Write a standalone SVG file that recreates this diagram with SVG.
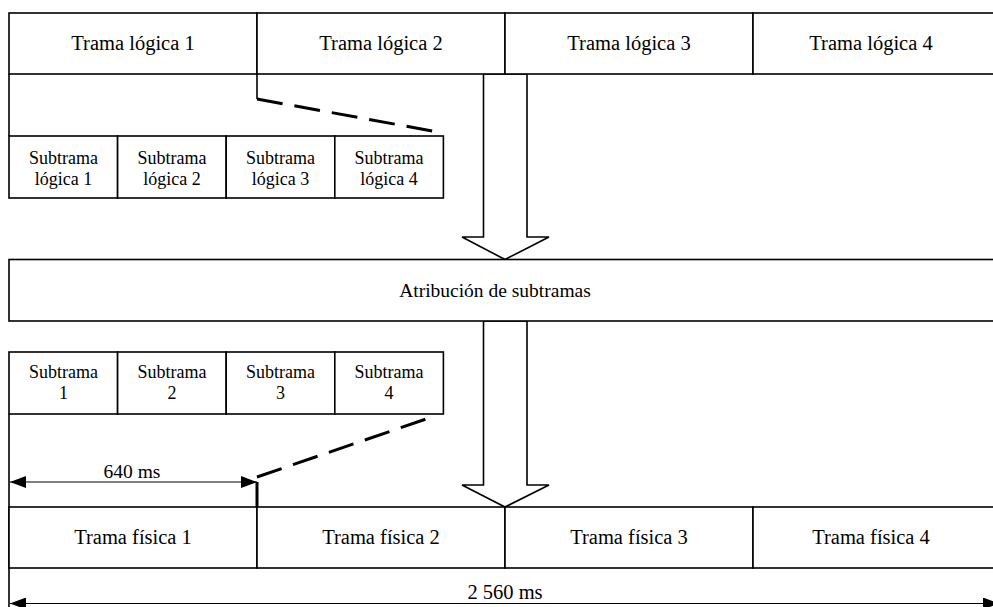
<svg xmlns="http://www.w3.org/2000/svg" width="993" height="607" viewBox="0 0 993 607">
<style>
  .box { fill: #ffffff; stroke: #000000; stroke-width: 1.6; }
  .ln { fill: none; stroke: #000000; stroke-width: 1.6; }
  .dash { fill: none; stroke: #000000; stroke-width: 3; stroke-dasharray: 26 12; }
  .dim { fill: none; stroke: #000000; stroke-width: 1.2; }
  .t { font-family: "Liberation Serif", "Times New Roman", serif; fill: #000000; text-anchor: middle; }
  .big { font-size: 20.5px; }
  .mid { font-size: 19.5px; }
  .sm { font-size: 18px; }
</style>
<defs>
  <marker id="ah" viewBox="0 0 16 12" refX="16" refY="6" markerWidth="16" markerHeight="12" markerUnits="userSpaceOnUse" orient="auto-start-reverse">
    <path d="M0,0 L16,6 L0,12 Z" fill="#000000"/>
  </marker>
</defs>
<rect x="0" y="0" width="993" height="607" fill="#ffffff"/>

<g id="connectors">
  <line class="ln" x1="9" y1="74" x2="9" y2="136"/>
  <line class="ln" x1="9" y1="414" x2="9" y2="607"/>
  <line class="ln" x1="257" y1="74" x2="257" y2="99"/>
  <line class="dash" x1="257" y1="99" x2="438" y2="132"/>
  <line class="dash" x1="257" y1="477" x2="432" y2="417"/>
  <polygon class="box" points="483.5,74 527,74 527,237 549,237 505,259.5 462,237 483.5,237"/>
  <polygon class="box" points="483.5,321 527,321 527,485 549,485 505,507 462,485 483.5,485"/>
  <line x1="257" y1="482" x2="257" y2="507" stroke="#000" stroke-width="3"/>
  <line class="dim" x1="10" y1="482" x2="257" y2="482" marker-start="url(#ah)" marker-end="url(#ah)"/>
  <text class="t mid" x="132" y="478">640 ms</text>
  <line class="dim" x1="10" y1="603.5" x2="999" y2="603.5" marker-start="url(#ah)" marker-end="url(#ah)"/>
  <text class="t big" x="505" y="599">2 560 ms</text>
</g>

<g id="trama-logica-1"><rect class="box" x="9" y="13" width="248" height="61"/><text class="t big" x="133" y="50">Trama lógica 1</text></g>
<g id="trama-logica-2"><rect class="box" x="257" y="13" width="248" height="61"/><text class="t big" x="381" y="50">Trama lógica 2</text></g>
<g id="trama-logica-3"><rect class="box" x="505" y="13" width="248" height="61"/><text class="t big" x="629" y="50">Trama lógica 3</text></g>
<g id="trama-logica-4"><rect class="box" x="753" y="13" width="250" height="61"/><text class="t big" x="871" y="50">Trama lógica 4</text></g>

<g id="subtrama-logica-1"><rect class="box" x="9" y="136" width="108.6" height="62"/><text class="t sm" x="63.5" y="164">Subtrama</text><text class="t sm" x="63.5" y="185">lógica 1</text></g>
<g id="subtrama-logica-2"><rect class="box" x="117.6" y="136" width="108.6" height="62"/><text class="t sm" x="172" y="164">Subtrama</text><text class="t sm" x="172" y="185">lógica 2</text></g>
<g id="subtrama-logica-3"><rect class="box" x="226.2" y="136" width="108.6" height="62"/><text class="t sm" x="280.5" y="164">Subtrama</text><text class="t sm" x="280.5" y="185">lógica 3</text></g>
<g id="subtrama-logica-4"><rect class="box" x="334.8" y="136" width="108.6" height="62"/><text class="t sm" x="389" y="164">Subtrama</text><text class="t sm" x="389" y="185">lógica 4</text></g>

<g id="atribucion"><rect class="box" x="9" y="259.5" width="1000" height="61.5"/><text class="t mid" x="495" y="297">Atribución de subtramas</text></g>

<g id="subtrama-1"><rect class="box" x="9" y="352" width="108.6" height="62"/><text class="t sm" x="63.5" y="378">Subtrama</text><text class="t sm" x="63.5" y="399">1</text></g>
<g id="subtrama-2"><rect class="box" x="117.6" y="352" width="108.6" height="62"/><text class="t sm" x="172" y="378">Subtrama</text><text class="t sm" x="172" y="399">2</text></g>
<g id="subtrama-3"><rect class="box" x="226.2" y="352" width="108.6" height="62"/><text class="t sm" x="280.5" y="378">Subtrama</text><text class="t sm" x="280.5" y="399">3</text></g>
<g id="subtrama-4"><rect class="box" x="334.8" y="352" width="108.6" height="62"/><text class="t sm" x="389" y="378">Subtrama</text><text class="t sm" x="389" y="399">4</text></g>

<g id="trama-fisica-1"><rect class="box" x="9" y="507" width="248" height="61"/><text class="t big" x="133" y="544">Trama física 1</text></g>
<g id="trama-fisica-2"><rect class="box" x="257" y="507" width="248" height="61"/><text class="t big" x="381" y="544">Trama física 2</text></g>
<g id="trama-fisica-3"><rect class="box" x="505" y="507" width="248" height="61"/><text class="t big" x="629" y="544">Trama física 3</text></g>
<g id="trama-fisica-4"><rect class="box" x="753" y="507" width="250" height="61"/><text class="t big" x="871" y="544">Trama física 4</text></g>
</svg>
